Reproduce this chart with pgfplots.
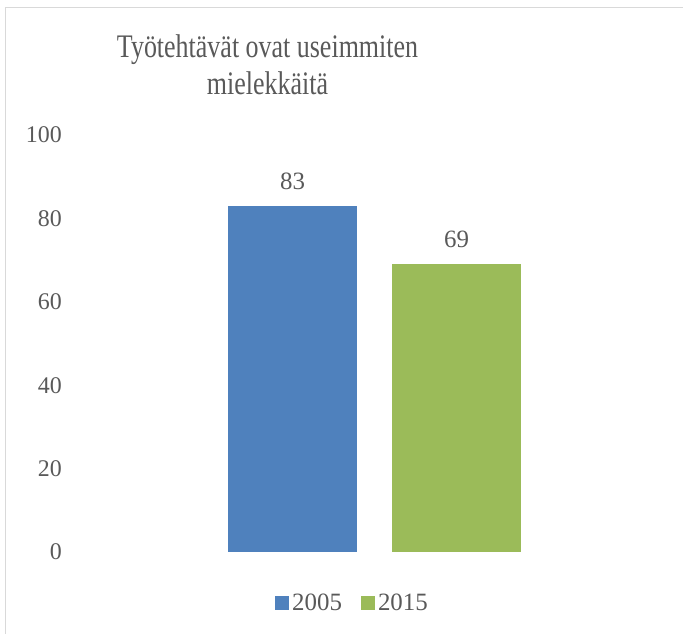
\documentclass[border=0pt]{standalone}
\usepackage{pgfplots}
\pgfplotsset{compat=1.18}
\usepackage{graphicx}
\usepackage{fontspec}
\setmainfont{Liberation Serif}
\definecolor{txt}{HTML}{595959}
\definecolor{bord}{HTML}{D9D9D9}
\definecolor{cblue}{HTML}{4F81BD}
\definecolor{cgreen}{HTML}{9BBB59}
\pgfplotsset{sqlegend/.style={legend image code/.code={\fill[##1] (0bp,-7bp) rectangle (14bp,7bp);}}}
\begin{document}
\begin{tikzpicture}[x=1bp,y=1bp]
\path[use as bounding box] (0,0) rectangle (683,634);
\draw[bord, line width=1.5bp] (5.5,0) -- (5.5,626.5) -- (683,626.5);
\node[anchor=base, txt, font=\fontsize{33}{38}\selectfont] at (267.5,576) {\scalebox{0.79}[1]{Työtehtävät ovat useimmiten}};
\node[anchor=base, txt, font=\fontsize{33}{38}\selectfont] at (267.5,539) {\scalebox{0.79}[1]{mielekkäitä}};
\begin{axis}[
  at={(66bp,82bp)}, anchor=south west,
  scale only axis, width=617bp, height=417bp,
  xmin=-1.3811, xmax=2.3811, ymin=0, ymax=100,
  axis line style={draw=none},
  major tick length=0pt,
  xtick=\empty,
  ytick={0,20,40,60,80,100},
  yticklabel style={font=\fontsize{24}{28}\selectfont, color=txt, anchor=east, inner sep=0pt, xshift=-4bp},
  /pgf/number format/assume math mode=true,
  ybar, bar width=129bp, bar shift=0pt,
  nodes near coords,
  every node near coord/.append style={font=\fontsize{25}{29}\selectfont, color=txt, anchor=south, inner sep=0pt, yshift=16bp},
  legend columns=2,
  legend style={at={(axis description cs:0.4652,-0.1223)}, anchor=center, draw=none, fill=none,
    font=\fontsize{25}{29}\selectfont, text=txt,
    /tikz/every even column/.append style={column sep=16bp},
    nodes={inner sep=3bp}},
]
\addplot[fill=cblue, draw=none, sqlegend] coordinates {(0,83)};
\addlegendentry{2005}
\addplot[fill=cgreen, draw=none, sqlegend] coordinates {(1,69)};
\addlegendentry{2015}
\end{axis}
\end{tikzpicture}
\end{document}
